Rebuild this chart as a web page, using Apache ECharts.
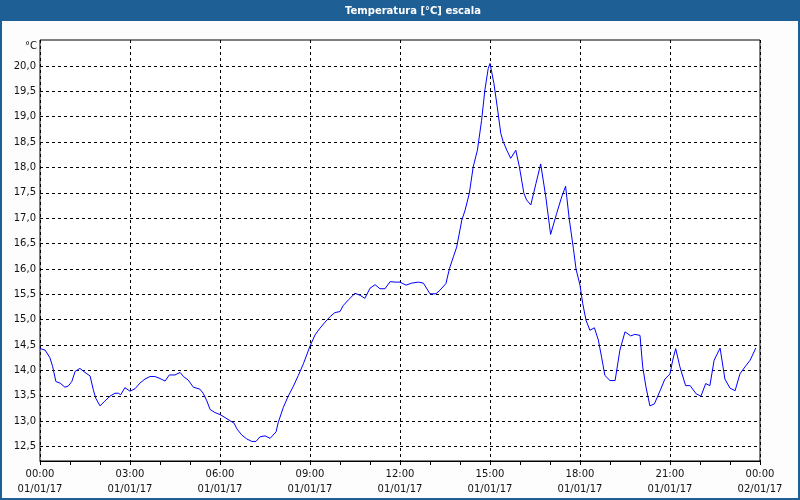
<!DOCTYPE html>
<html>
<head>
<meta charset="utf-8">
<script src="https://cdn.jsdelivr.net/npm/echarts@6/dist/echarts.min.js"></script>
<style>
html,body{margin:0;padding:0;background:#fcfdfc;}
#c{width:800px;height:500px;}
</style>
</head>
<body>
<div id="c"></div>
<script>
// Time of day in hours (01/01/17)
var hours = [0.00,0.17,0.33,0.42,0.53,0.67,0.83,0.94,1.06,1.17,1.33,1.50,1.67,1.78,1.86,2.00,2.17,2.33,2.50,2.61,2.69,2.83,3.00,3.17,3.33,3.50,3.67,3.83,4.00,4.17,4.31,4.50,4.67,4.78,4.94,5.11,5.33,5.44,5.56,5.67,5.83,6.00,6.17,6.33,6.47,6.56,6.72,6.89,7.06,7.20,7.33,7.50,7.67,7.87,7.94,8.11,8.28,8.44,8.61,8.78,9.00,9.17,9.33,9.50,9.67,9.83,10.00,10.11,10.28,10.50,10.67,10.83,11.00,11.17,11.33,11.50,11.67,11.83,12.00,12.20,12.39,12.61,12.78,13.00,13.20,13.33,13.53,13.65,13.78,13.89,14.06,14.17,14.31,14.44,14.58,14.72,14.83,14.94,15.00,15.06,15.13,15.24,15.36,15.44,15.56,15.69,15.86,15.98,16.13,16.22,16.36,16.53,16.69,16.86,17.02,17.22,17.39,17.52,17.64,17.78,17.87,18.00,18.09,18.20,18.33,18.48,18.61,18.72,18.83,19.00,19.17,19.33,19.50,19.69,19.83,20.00,20.09,20.20,20.33,20.48,20.67,20.83,21.00,21.09,21.19,21.33,21.52,21.67,21.87,22.03,22.19,22.33,22.47,22.67,22.83,23.00,23.17,23.33,23.50,23.67,23.86];
// Temperature in °C
var temps = [14.43,14.40,14.25,14.08,13.78,13.75,13.67,13.69,13.78,13.98,14.04,13.96,13.89,13.61,13.45,13.30,13.40,13.49,13.55,13.55,13.52,13.66,13.59,13.64,13.75,13.83,13.88,13.88,13.84,13.79,13.91,13.91,13.96,13.88,13.81,13.67,13.63,13.55,13.40,13.23,13.17,13.13,13.07,13.01,12.96,12.85,12.73,12.65,12.60,12.60,12.69,12.71,12.66,12.79,12.97,13.27,13.50,13.68,13.90,14.13,14.48,14.70,14.83,14.95,15.06,15.14,15.16,15.28,15.39,15.52,15.48,15.42,15.62,15.69,15.61,15.61,15.75,15.74,15.74,15.68,15.72,15.74,15.72,15.51,15.51,15.58,15.71,16.01,16.24,16.43,16.96,17.16,17.49,18.01,18.34,18.93,19.53,19.95,20.05,20.05,19.66,19.20,18.67,18.51,18.34,18.18,18.34,18.01,17.49,17.36,17.26,17.68,18.07,17.42,16.68,17.09,17.42,17.63,16.99,16.40,15.99,15.68,15.32,14.99,14.79,14.84,14.60,14.26,13.90,13.80,13.80,14.40,14.76,14.68,14.71,14.69,14.07,13.67,13.30,13.34,13.60,13.83,13.93,14.20,14.43,14.07,13.70,13.70,13.54,13.49,13.74,13.70,14.20,14.44,13.83,13.65,13.60,13.93,14.07,14.20,14.44];
// Axis tick labels
var xTimes = ['00:00','03:00','06:00','09:00','12:00','15:00','18:00','21:00','00:00'];
var xDates = ['01/01/17','01/01/17','01/01/17','01/01/17','01/01/17','01/01/17','01/01/17','01/01/17','02/01/17'];
var titleText = 'Temperatura [°C] escala';
var unitText = '°C';

var points = hours.map(function(h, i){ return [h, temps[i]]; });
var FONT = 'DejaVu Sans';
var dashed = {color:'#000', width:1, type:[3,3]};

var chart = echarts.init(document.getElementById('c'), null, {renderer:'canvas'});
chart.setOption({
  animation:false,
  backgroundColor:'#fcfdfc',
  graphic:[
    {type:'rect', z:-1, shape:{x:0,y:0,width:800,height:21}, style:{fill:'#1e5f96'}},
    {type:'rect', z:100, shape:{x:1,y:1,width:798,height:498}, style:{fill:'none', stroke:'#1e5f96', lineWidth:2}},
    {type:'text', x:413, y:11, style:{text:titleText, fill:'#ffffff', font:'bold 10px "DejaVu Sans"', textAlign:'center', textVerticalAlign:'middle'}},
    {type:'text', x:37, y:46, style:{text:unitText, fill:'#111', font:'10px "DejaVu Sans"', textAlign:'right', textVerticalAlign:'middle'}}
  ],
  grid:[
    {left:40, top:40, width:720, height:421, show:true, backgroundColor:'#ffffff', borderColor:'#000', borderWidth:1, containLabel:false},
    {left:40, top:66, width:720, height:380.5, containLabel:false}
  ],
  xAxis:[
    {type:'value', gridIndex:0, min:0, max:24, interval:3,
     axisLine:{show:true, lineStyle:{color:'#000'}},
     axisTick:{show:true, length:4, lineStyle:{color:'#000'}},
     minorTick:{show:true, splitNumber:3, length:4, lineStyle:{color:'#000'}},
     splitLine:{show:true, lineStyle:dashed},
     axisLabel:{show:true, margin:6, color:'#111', fontFamily:FONT, fontSize:10, lineHeight:15, showMinLabel:true, showMaxLabel:true,
       formatter:function(v){ var i = Math.round(v/3); return xTimes[i] + '\n' + xDates[i]; }}
    },
    {type:'value', gridIndex:1, min:0, max:24, show:false}
  ],
  yAxis:[
    {type:'value', gridIndex:0, min:12.2142, max:20.5125, show:false},
    {type:'value', gridIndex:1, min:12.5, max:20, interval:0.5,
     axisLine:{show:false}, axisTick:{show:false},
     splitLine:{show:true, lineStyle:dashed},
     axisLabel:{show:true, margin:4, color:'#111', fontFamily:FONT, fontSize:10,
       formatter:function(v){ return v.toFixed(1).replace('.', ','); }}
    }
  ],
  series:[
    {type:'line', xAxisIndex:0, yAxisIndex:0, data:points, showSymbol:false, smooth:false,
     lineStyle:{color:'#0000ff', width:1}, z:10}
  ]
});
</script>
</body>
</html>
